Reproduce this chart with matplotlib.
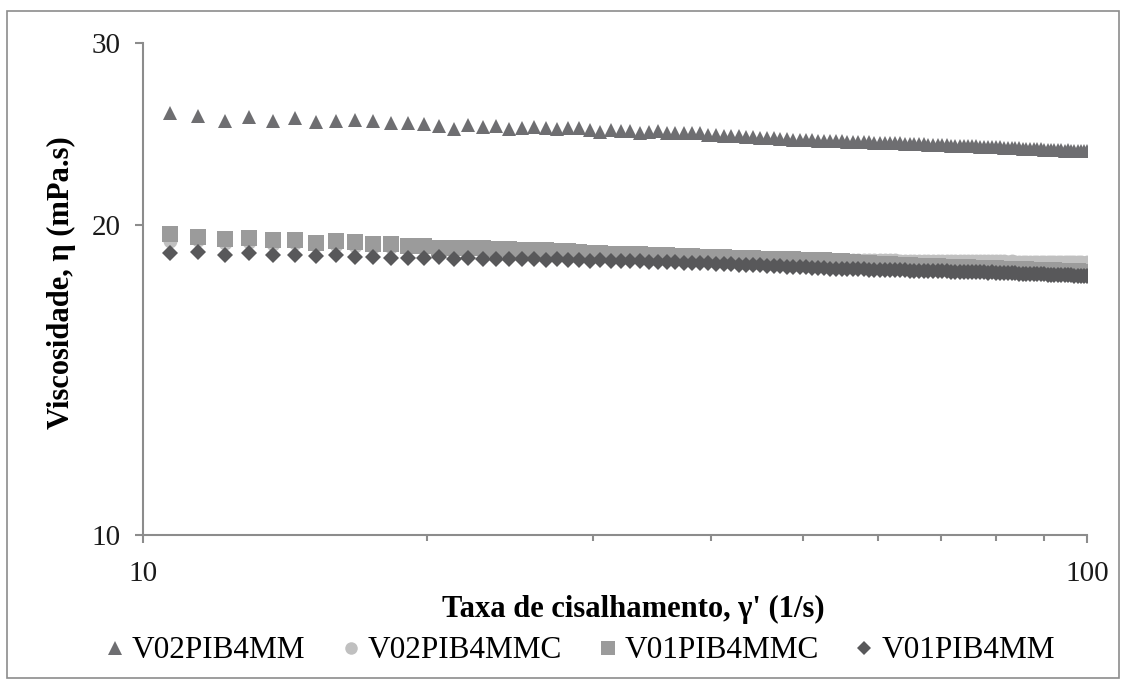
import matplotlib.pyplot as plt
from matplotlib.patches import Rectangle
from matplotlib.ticker import LogLocator, NullFormatter, FixedLocator, FixedFormatter

plt.rcParams['font.family'] = ['Liberation Serif', 'DejaVu Serif']

# shear rate (1/s)
taxa = [10.67, 11.43, 12.20, 12.96, 13.72, 14.49, 15.25, 16.01, 16.78, 17.54,
        18.30, 19.07, 19.83, 20.60, 21.36, 22.12, 22.89, 23.65, 24.41, 25.18,
        25.94, 26.70, 27.47, 28.23, 28.99, 29.76, 30.52, 31.28, 32.05, 32.81,
        33.58, 34.34, 35.10, 35.87, 36.63, 37.39, 38.16, 38.92, 39.68, 40.45,
        41.21, 41.97, 42.74, 43.50, 44.26, 45.03, 45.79, 46.55, 47.32, 48.08,
        48.85, 49.61, 50.37, 51.14, 51.90, 52.66, 53.43, 54.19, 54.95, 55.72,
        56.48, 57.24, 58.01, 58.77, 59.53, 60.30, 61.06, 61.83, 62.59, 63.35,
        64.12, 64.88, 65.64, 66.41, 67.17, 67.93, 68.70, 69.46, 70.22, 70.99,
        71.75, 72.51, 73.28, 74.04, 74.81, 75.57, 76.33, 77.10, 77.86, 78.62,
        79.39, 80.15, 80.91, 81.68, 82.44, 83.20, 83.97, 84.73, 85.50, 86.26,
        87.02, 87.79, 88.55, 89.31, 90.08, 90.84, 91.60, 92.37, 93.13, 93.89,
        94.66, 95.42, 96.18, 96.95, 97.71, 98.48, 99.24, 100.00]

# viscosity (mPa.s)
v02pib4mm = [25.66, 25.47, 25.22, 25.41, 25.19, 25.37, 25.13, 25.19, 25.26, 25.22,
             25.10, 25.11, 25.03, 24.94, 24.77, 24.96, 24.85, 24.91, 24.74, 24.83,
             24.88, 24.79, 24.77, 24.79, 24.80, 24.71, 24.60, 24.71, 24.65, 24.65,
             24.52, 24.60, 24.65, 24.55, 24.52, 24.55, 24.54, 24.54, 24.43, 24.43,
             24.38, 24.36, 24.35, 24.31, 24.30, 24.28, 24.27, 24.24, 24.22, 24.22,
             24.18, 24.17, 24.16, 24.15, 24.12, 24.13, 24.10, 24.09, 24.08, 24.07,
             24.05, 24.05, 24.03, 24.03, 24.01, 24.00, 24.00, 23.98, 23.98, 23.97,
             23.96, 23.95, 23.94, 23.93, 23.93, 23.91, 23.90, 23.90, 23.88, 23.88,
             23.86, 23.85, 23.85, 23.83, 23.83, 23.82, 23.81, 23.80, 23.79, 23.79,
             23.78, 23.77, 23.76, 23.75, 23.74, 23.74, 23.72, 23.72, 23.70, 23.70,
             23.68, 23.68, 23.67, 23.66, 23.65, 23.64, 23.63, 23.63, 23.61, 23.61,
             23.59, 23.60, 23.58, 23.59, 23.57, 23.58, 23.56, 23.55]

v02pib4mmc = [19.30, 19.31, 19.20, 19.24, 19.16, 19.18, 19.10, 19.12, 19.08, 19.04,
              19.02, 18.99, 18.97, 18.95, 18.93, 18.92, 18.90, 18.88, 18.87, 18.86,
              18.84, 18.83, 18.82, 18.81, 18.80, 18.78, 18.77, 18.76, 18.75, 18.74,
              18.73, 18.72, 18.71, 18.70, 18.69, 18.68, 18.67, 18.66, 18.65, 18.64,
              18.63, 18.62, 18.61, 18.60, 18.59, 18.58, 18.57, 18.56, 18.55, 18.54,
              18.53, 18.52, 18.52, 18.51, 18.50, 18.50, 18.49, 18.49, 18.48, 18.48,
              18.48, 18.47, 18.47, 18.47, 18.47, 18.46, 18.46, 18.46, 18.46, 18.45,
              18.45, 18.45, 18.45, 18.45, 18.44, 18.45, 18.44, 18.44, 18.45, 18.44,
              18.44, 18.44, 18.43, 18.44, 18.44, 18.43, 18.44, 18.43, 18.43, 18.42,
              18.43, 18.42, 18.42, 18.42, 18.41, 18.42, 18.41, 18.41, 18.41, 18.40,
              18.41, 18.40, 18.40, 18.40, 18.39, 18.40, 18.39, 18.39, 18.39, 18.39,
              18.38, 18.39, 18.38, 18.38, 18.38, 18.38, 18.37, 18.38]

v01pib4mmc = [19.58, 19.47, 19.36, 19.41, 19.31, 19.33, 19.18, 19.26, 19.23, 19.14,
              19.13, 19.08, 19.06, 19.00, 18.97, 18.98, 18.96, 18.93, 18.92, 18.91,
              18.91, 18.89, 18.86, 18.84, 18.83, 18.79, 18.75, 18.74, 18.73, 18.71,
              18.71, 18.69, 18.69, 18.67, 18.66, 18.64, 18.63, 18.62, 18.61, 18.60,
              18.59, 18.58, 18.57, 18.57, 18.55, 18.54, 18.53, 18.52, 18.51, 18.51,
              18.50, 18.49, 18.48, 18.47, 18.46, 18.46, 18.45, 18.43, 18.42, 18.40,
              18.39, 18.37, 18.36, 18.35, 18.33, 18.32, 18.31, 18.30, 18.28, 18.27,
              18.26, 18.26, 18.25, 18.24, 18.24, 18.23, 18.22, 18.22, 18.21, 18.21,
              18.20, 18.20, 18.19, 18.19, 18.18, 18.17, 18.17, 18.16, 18.16, 18.15,
              18.14, 18.14, 18.13, 18.13, 18.12, 18.12, 18.11, 18.11, 18.10, 18.10,
              18.09, 18.09, 18.08, 18.08, 18.07, 18.07, 18.06, 18.06, 18.05, 18.05,
              18.04, 18.04, 18.03, 18.03, 18.02, 18.01, 18.01, 18.00]

v01pib4mm = [18.79, 18.83, 18.68, 18.75, 18.70, 18.69, 18.66, 18.70, 18.61, 18.62,
             18.57, 18.58, 18.58, 18.59, 18.54, 18.55, 18.53, 18.54, 18.51, 18.53,
             18.50, 18.49, 18.50, 18.47, 18.48, 18.45, 18.46, 18.44, 18.44, 18.42,
             18.43, 18.40, 18.41, 18.39, 18.39, 18.37, 18.37, 18.35, 18.34, 18.32,
             18.31, 18.30, 18.29, 18.28, 18.26, 18.26, 18.24, 18.23, 18.22, 18.21,
             18.20, 18.18, 18.18, 18.16, 18.16, 18.14, 18.13, 18.13, 18.12, 18.12,
             18.11, 18.10, 18.10, 18.09, 18.09, 18.08, 18.08, 18.07, 18.07, 18.06,
             18.06, 18.05, 18.05, 18.04, 18.04, 18.03, 18.03, 18.03, 18.02, 18.02,
             18.01, 18.01, 18.01, 18.00, 18.00, 17.99, 17.99, 17.98, 17.98, 17.97,
             17.98, 17.96, 17.96, 17.95, 17.95, 17.94, 17.94, 17.93, 17.93, 17.92,
             17.92, 17.91, 17.91, 17.90, 17.90, 17.89, 17.89, 17.88, 17.88, 17.87,
             17.87, 17.86, 17.86, 17.85, 17.85, 17.84, 17.84, 17.83]

x_ticks = [10, 100]
y_ticks = [10, 20, 30]

grey = '#8c8c8c'

fig = plt.figure(figsize=(11.28, 6.86), dpi=100)
ax = fig.add_axes([143 / 1128, 151 / 686, 944 / 1128, 492 / 686])

ax.plot(taxa, v02pib4mm, '^', color='#6e6e71', ms=10.5, mew=0, label='V02PIB4MM')
ax.plot(taxa, v02pib4mmc, 'o', color='#c0c0c0', ms=10, mew=0, label='V02PIB4MMC')
ax.plot(taxa, v01pib4mmc, 's', color='#9b9b9b', ms=11, mew=0, label='V01PIB4MMC')
ax.plot(taxa, v01pib4mm, 'D', color='#58585a', ms=8, mew=0, label='V01PIB4MM')

ax.set_xscale('log')
ax.set_yscale('log')
ax.set_xlim(10, 100)
ax.set_ylim(10, 30)

ax.xaxis.set_major_locator(FixedLocator(x_ticks))
ax.xaxis.set_major_formatter(FixedFormatter([str(t) for t in x_ticks]))
ax.xaxis.set_minor_locator(LogLocator(base=10, subs=range(2, 10)))
ax.xaxis.set_minor_formatter(NullFormatter())
ax.yaxis.set_major_locator(FixedLocator(y_ticks))
ax.yaxis.set_major_formatter(FixedFormatter([str(t) for t in y_ticks]))
ax.yaxis.set_minor_locator(FixedLocator([]))

for s in ['top', 'right']:
    ax.spines[s].set_visible(False)
for s in ['left', 'bottom']:
    ax.spines[s].set_color(grey)
    ax.spines[s].set_linewidth(1.5)

ax.tick_params(axis='both', which='major', direction='out', length=6, width=1.5,
               color=grey, labelsize=21, labelcolor='#1a1a1a')
ax.tick_params(axis='x', which='major', pad=13)
ax.tick_params(axis='y', which='major', pad=10)
ax.tick_params(axis='x', which='minor', direction='out', length=4.5, width=1.5, color=grey)

ax.set_xlabel("Taxa de cisalhamento, γ' (1/s)", fontsize=22, fontweight='bold')
ax.xaxis.label.set_va('center')
ax.xaxis.set_label_coords(0.519, -0.152)
ax.set_ylabel('Viscosidade, η (mPa.s)', fontsize=22, fontweight='bold')
ax.yaxis.label.set_va('center')
ax.yaxis.set_label_coords(-0.086, 0.512)

fig.legend(loc='center', bbox_to_anchor=(581 / 1128, 35 / 686), ncol=4,
           frameon=False, fontsize=22.5, handlelength=0.5, handletextpad=0.3,
           columnspacing=1.2, borderpad=0, markerscale=0.9)

fig.patches.append(Rectangle((7 / 1128, 8 / 686), 1112 / 1128, 667 / 686,
                             transform=fig.transFigure, fill=False,
                             edgecolor=grey, linewidth=1.2))

fig.savefig('out.png', dpi=100)
